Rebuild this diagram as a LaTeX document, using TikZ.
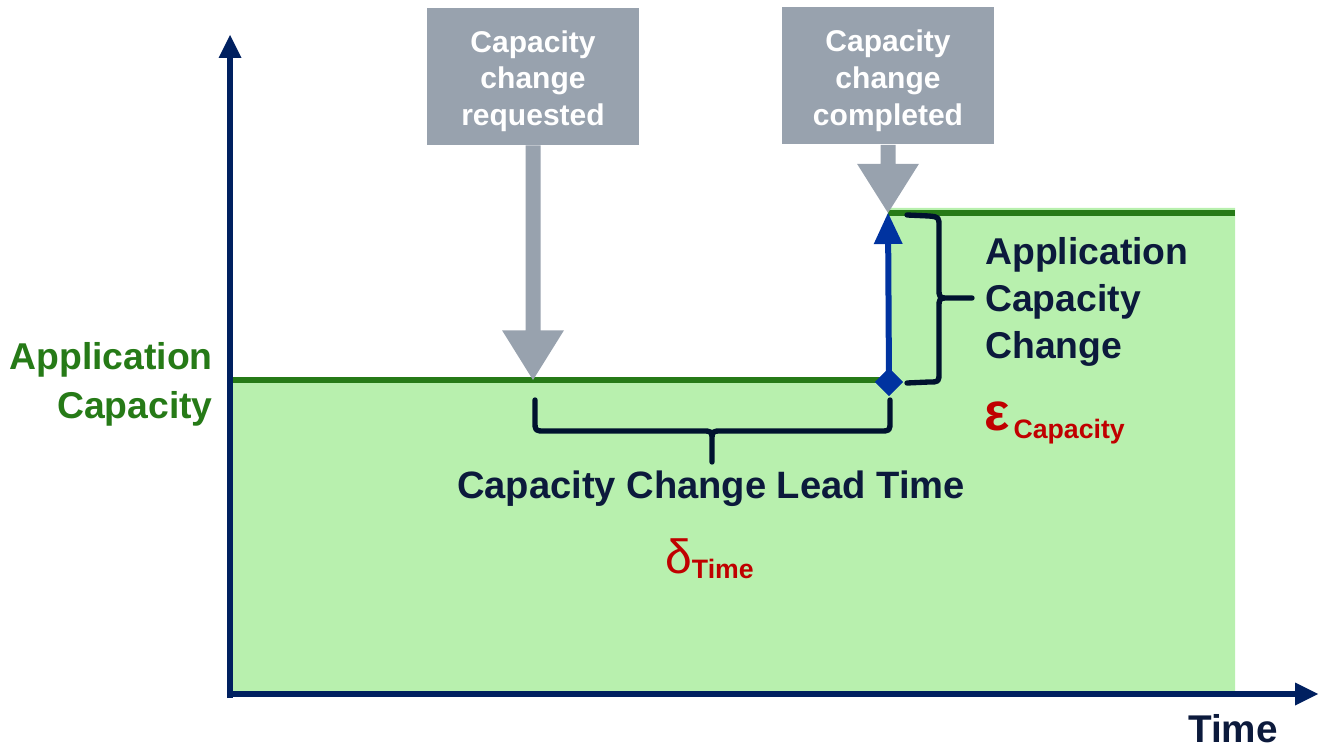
\documentclass[tikz,border=0pt]{standalone}
\usepackage{fontspec}
\setmainfont{Liberation Sans}
\usetikzlibrary{arrows.meta,calc,shapes.geometric}

\definecolor{fillgreen}{HTML}{B8F0AE}
\definecolor{linegreen}{HTML}{267A17}
\definecolor{axisnavy}{HTML}{002060}
\definecolor{textnavy}{HTML}{0C1A3C}
\definecolor{bracenavy}{HTML}{00122F}
\definecolor{markblue}{HTML}{0033A0}
\definecolor{boxgray}{HTML}{98A2AE}
\definecolor{accentred}{HTML}{C00000}

% block arrow under an event box: #1 box, #2 tip, #3 shaft length below the box
\newcommand\graypointer[3]{%
  \fill[boxgray] ($(#1.south)+(-7.5,0)$) -- ($(#1.south)+(-7.5,#3)$)
    -- ($(#1.south)+(-31,#3)$) -- (#2) -- ($(#1.south)+(31,#3)$)
    -- ($(#1.south)+(7.5,#3)$) -- ($(#1.south)+(7.5,0)$) -- cycle;}

\begin{document}
\begin{tikzpicture}[x=0.75pt,y=-0.75pt,
  axisline/.style={draw=axisnavy,line width=4.5pt,
    -{Triangle[width=17.25pt,length=17.25pt,line width=0pt]}},
  levelline/.style={draw=linegreen,line width=4.5pt},
  eventbox/.style={fill=boxgray,minimum width=159pt,minimum height=102.75pt,inner sep=0pt},
  eventtext/.style={inner sep=0pt,text=white,align=center,
    font=\bfseries\fontsize{22.5}{27.6}\selectfont},
  bracestyle/.style={draw=bracenavy,line width=4pt,line cap=round,line join=round},
  risearrow/.style={draw=markblue,line width=4.5pt,
    -{Triangle[width=21.75pt,length=23.25pt,line width=0pt]}},
  stepmark/.style={diamond,fill=markblue,minimum width=21pt,minimum height=21pt,inner sep=0pt},
  biglabel/.style={inner sep=0pt,font=\bfseries\fontsize{28}{35.5}\selectfont},
]
\useasboundingbox (0,0) rectangle (1320,748);

% key points
\coordinate (origin) at (230,694);
\coordinate (ytop) at (230,35);
\coordinate (xend) at (1318,694);
\coordinate (lowL) at (230,380);
\coordinate (lowR) at (888,380);
\coordinate (highL) at (888,213);
\coordinate (highR) at (1235,213);
\coordinate (reqtip) at (533,380);
\coordinate (comptip) at (888,213);

% capacity area
\fill[fillgreen] (230,377) -| (888,208) -| (1235,694) -- (230,694) -- cycle;
\draw[levelline] (lowL) -- (lowR);
\draw[levelline] (highL) -- (highR);

% event boxes and their pointers
\node[eventbox] (req) at (533,76.5) {};
\node[eventbox] (comp) at (888,76) {};
\node[eventtext] (reqtext) at ([yshift=-3.5pt]req.center) {Capacity\\change\\requested};
\node[eventtext] (comptext) at ([yshift=-3.5pt]comp.center) {Capacity\\change\\completed};
\graypointer{req}{reqtip}{185}
\graypointer{comp}{comptip}{19}

% capacity step
\node[stepmark] (step) at (889,382) {};
\draw[risearrow] (step.center) -- (comptip);
\node[stepmark] at (step.center) {};

% braces
\draw[bracestyle] (535,400) -- (535,421) .. controls (535,431) .. (545,431)
  -- (702,431) .. controls (712,431) .. (712,441) -- (712,462)
  (712,441) .. controls (712,431) .. (722,431) -- (880,431)
  .. controls (890,431) .. (890,421) -- (890,400);
\draw[bracestyle] (907,215) -- (929,216) .. controls (939,217) .. (939,227)
  -- (939,288) .. controls (939,298) .. (949,298) -- (972,298)
  (949,298) .. controls (939,298) .. (939,308) -- (939,372)
  .. controls (939,382) .. (929,382) -- (907,383);

% labels
\node[biglabel,anchor=north east,align=right,text=linegreen,
  font=\bfseries\fontsize{28}{36.75}\selectfont] (caplabel) at (213,342) {Application\\Capacity};
\node[biglabel,anchor=north west,align=left,text=textnavy] (chglabel) at (985,237)
  {Application\\Capacity\\Change};
\node[biglabel,anchor=base,text=textnavy,font=\bfseries\fontsize{28.6}{34}\selectfont]
  (leadlabel) at (711,498) {Capacity Change Lead Time};
\node[anchor=base west,inner sep=0pt,text=accentred] (dtime) at (665,573)
  {\fontsize{36}{40}\selectfont δ\raisebox{-4pt}{\bfseries\fontsize{20}{24}\selectfont Time}};
\node[anchor=base west,inner sep=0pt,text=accentred] (ecap) at (984,430)
  {\bfseries\fontsize{40}{44}\selectfont ε\hspace{3pt}\raisebox{-6pt}{\fontsize{20}{24}\selectfont Capacity}};
\node[biglabel,anchor=base,text=textnavy,font=\bfseries\fontsize{29}{34}\selectfont] (timelabel)
  at (1233,742) {Time};

% axes
\draw[axisline] ([yshift=-3pt]origin) -- (ytop);
\draw[axisline] ([xshift=-2.25pt]origin) -- (xend);
\end{tikzpicture}
\end{document}
